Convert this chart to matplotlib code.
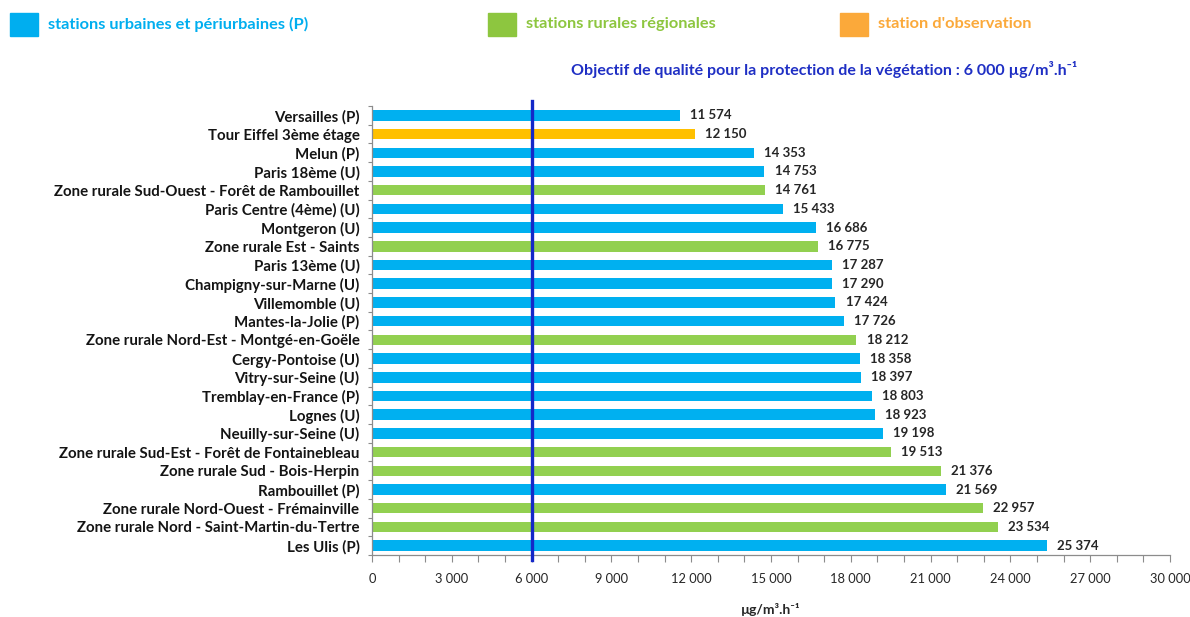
import matplotlib
matplotlib.use("Agg")
import matplotlib.pyplot as plt
from matplotlib.patches import Rectangle
from matplotlib.ticker import MultipleLocator, FuncFormatter

plt.rcParams['font.family'] = ['Lato', 'DejaVu Sans']

stations = [
    "Versailles (P)",
    "Tour Eiffel 3ème étage",
    "Melun (P)",
    "Paris 18ème (U)",
    "Zone rurale Sud-Ouest - Forêt de Rambouillet",
    "Paris Centre (4ème) (U)",
    "Montgeron (U)",
    "Zone rurale Est - Saints",
    "Paris 13ème (U)",
    "Champigny-sur-Marne (U)",
    "Villemomble (U)",
    "Mantes-la-Jolie (P)",
    "Zone rurale Nord-Est - Montgé-en-Goële",
    "Cergy-Pontoise (U)",
    "Vitry-sur-Seine (U)",
    "Tremblay-en-France (P)",
    "Lognes (U)",
    "Neuilly-sur-Seine (U)",
    "Zone rurale Sud-Est - Forêt de Fontainebleau",
    "Zone rurale Sud - Bois-Herpin",
    "Rambouillet (P)",
    "Zone rurale Nord-Ouest - Frémainville",
    "Zone rurale Nord - Saint-Martin-du-Tertre",
    "Les Ulis (P)",
]
aot40 = [11574, 12150, 14353, 14753, 14761, 15433, 16686, 16775, 17287, 17290,
         17424, 17726, 18212, 18358, 18397, 18803, 18923, 19198, 19513, 21376,
         21569, 22957, 23534, 25374]
station_type = ["urb", "obs", "urb", "urb", "rur", "urb", "urb", "rur", "urb", "urb",
                "urb", "urb", "rur", "urb", "urb", "urb", "urb", "urb", "rur", "rur",
                "urb", "rur", "rur", "urb"]
objective = 6000
legend_labels = {
    "urb": "stations urbaines et périurbaines (P)",
    "rur": "stations rurales régionales",
    "obs": "station d'observation",
}

bar_colors = {"urb": "#00B0F0", "rur": "#92D050", "obs": "#FFC000"}
legend_colors = {"urb": "#00AEEF", "rur": "#8DC63F", "obs": "#FBA93A"}

fig = plt.figure(figsize=(11.9, 6.17), dpi=100)
ax = fig.add_axes([0.3126, 0.1005, 0.6706, 0.7277])

n = len(stations)
ypos = list(range(n))
ax.barh(ypos, aot40, height=0.56, color=[bar_colors[t] for t in station_type],
        zorder=2)

for y, v in zip(ypos, aot40):
    ax.text(v + 380, y, f"{v:,}".replace(",", " "), va="center", ha="left",
            fontsize=9.5, fontweight="bold", color="#262626")

ax.set_ylim(n - 0.5, -0.5)
ax.set_xlim(0, 30000)

# objective line, slightly overshooting the plot frame
ax.plot([objective, objective], [n - 0.5 + 0.25, -0.5 - 0.25], color="#1428C8",
        lw=2.4, clip_on=False, zorder=3)

ax.set_yticks(ypos)
ax.set_yticklabels(stations, fontsize=10.8, fontweight="bold", color="#141414")
ax.set_yticks([y + 0.5 for y in range(-1, n)], minor=True)
ax.tick_params(axis="y", which="major", length=0, pad=9)
ax.tick_params(axis="y", which="minor", length=3, color="#8c8c8c", width=0.8)

ax.xaxis.set_major_locator(MultipleLocator(3000))
ax.xaxis.set_minor_locator(MultipleLocator(1000))
ax.xaxis.set_major_formatter(FuncFormatter(lambda x, p: f"{int(x):,}".replace(",", " ")))
ax.tick_params(axis="x", which="both", length=5, color="#8c8c8c", width=0.8,
               labelsize=9.3, labelcolor="#262626", pad=8)

for side in ("top", "right"):
    ax.spines[side].set_visible(False)
for side in ("left", "bottom"):
    ax.spines[side].set_color("#8c8c8c")
    ax.spines[side].set_linewidth(0.9)

ax.set_xlabel("µg/m³.h⁻¹", fontsize=10, fontweight="bold", color="#262626",
              labelpad=13, family=["Lato", "DejaVu Sans"])

# legend row
W, H = 1190.0, 617.0
legend_pos = {"urb": 10, "rur": 488, "obs": 840}
for key, x0 in legend_pos.items():
    fig.add_artist(Rectangle((x0 / W, 1 - 36 / H), 28 / W, 23 / H,
                             transform=fig.transFigure, color=legend_colors[key]))
    fig.text((x0 + 38) / W, 1 - 24 / H, legend_labels[key], fontsize=11.8,
             fontweight="bold", color=legend_colors[key], va="center", ha="left")

fig.text(824 / W, 1 - 70 / H,
         "Objectif de qualité pour la protection de la végétation : 6 000 µg/m³.h⁻¹",
         fontsize=11.5, fontweight="bold", color="#1F2FC4", va="center", ha="center",
         family=["Lato", "DejaVu Sans"])

fig.savefig("out.png", dpi=100, facecolor="white")
